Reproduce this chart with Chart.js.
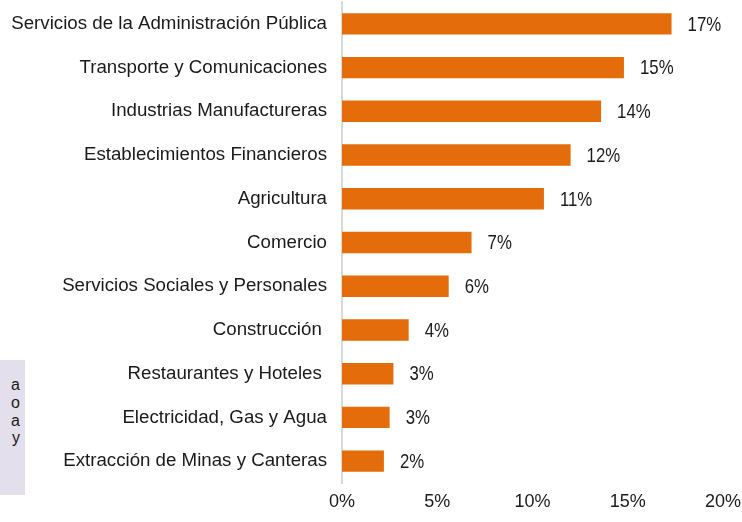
<!DOCTYPE html>
<html>
<head>
<meta charset="utf-8">
<script src="https://cdn.jsdelivr.net/npm/chart.js@4"></script>
<style>
  html, body { margin: 0; padding: 0; background: #fff; }
  #wrap { position: relative; width: 742px; height: 522px; }
  #note {
    position: absolute; left: 0; top: 360px; width: 25px; height: 135px;
    background: #e4dfec; overflow: hidden;
    font: 16px "Liberation Sans", Arial, sans-serif; color: #1a1a1a;
  }
  #note div { position: absolute; right: 5px; line-height: 18px; }
</style>
</head>
<body>
<div id="wrap">
  <canvas id="sectorChart" width="742" height="522"></canvas>
  <div id="note">
    <div style="top:16px">a</div>
    <div style="top:34px">o</div>
    <div style="top:52px">a</div>
    <div style="top:69px">y</div>
  </div>
</div>
<script>
const sectors = [
  'Servicios de la Administración Pública',
  'Transporte y Comunicaciones',
  'Industrias Manufactureras',
  'Establecimientos Financieros',
  'Agricultura',
  'Comercio',
  'Servicios Sociales y Personales',
  'Construcción ',
  'Restaurantes y Hoteles ',
  'Electricidad, Gas y Agua',
  'Extracción de Minas y Canteras'
];
const shares = [17.3, 14.8, 13.6, 12.0, 10.6, 6.8, 5.6, 3.5, 2.7, 2.5, 2.2];
const xTicks = [0, 5, 10, 15, 20];

const sans = '"Liberation Sans", Arial, sans-serif';

// percentage labels to the right of each bar (squeezed like a narrow face)
const barLabels = {
  id: 'barLabels',
  afterDatasetsDraw(chart) {
    const c = chart.ctx;
    const meta = chart.getDatasetMeta(0);
    meta.data.forEach((bar, i) => {
      c.save();
      c.translate(bar.x + 16, bar.y + 1);
      c.scale(0.8, 1);
      c.font = '21px ' + sans;
      c.fillStyle = '#1a1a1a';
      c.textAlign = 'left';
      c.textBaseline = 'middle';
      c.fillText(Math.round(shares[i]) + '%', 0, 0);
      c.restore();
    });
  }
};

const ctx = document.getElementById('sectorChart').getContext('2d');
const sectorChart = new Chart(ctx, {
  type: 'bar',
  data: {
    labels: sectors,
    datasets: [{
      data: shares,
      backgroundColor: '#e46c0a',
      borderWidth: 0,
      categoryPercentage: 1,
      barPercentage: 0.49
    }]
  },
  options: {
    indexAxis: 'y',
    responsive: false,
    animation: false,
    layout: { padding: { top: 2, right: 0, left: 0, bottom: 0 } },
    plugins: { legend: { display: false }, tooltip: { enabled: false } },
    scales: {
      x: {
        min: 0, max: 20,
        afterBuildTicks: s => { s.ticks = xTicks.map(v => ({ value: v })); },
        grid: { display: false, drawTicks: false },
        border: { display: false },
        ticks: {
          padding: 8,
          color: '#1a1a1a',
          font: { size: 18, family: sans },
          callback: v => v + '%'
        },
        afterFit: s => { s.height = 39; s.paddingRight = 19; s.paddingLeft = 0; }
      },
      y: {
        grid: { display: false, drawTicks: false },
        border: { display: true, color: '#d9d9d9', width: 2 },
        ticks: {
          padding: 15,
          color: '#1a1a1a',
          font: { size: 18.7, family: sans }
        },
        afterFit: s => { s.width = 342; s.paddingTop = 0; s.paddingBottom = 0; }
      }
    }
  },
  plugins: [barLabels]
});
</script>
</body>
</html>
